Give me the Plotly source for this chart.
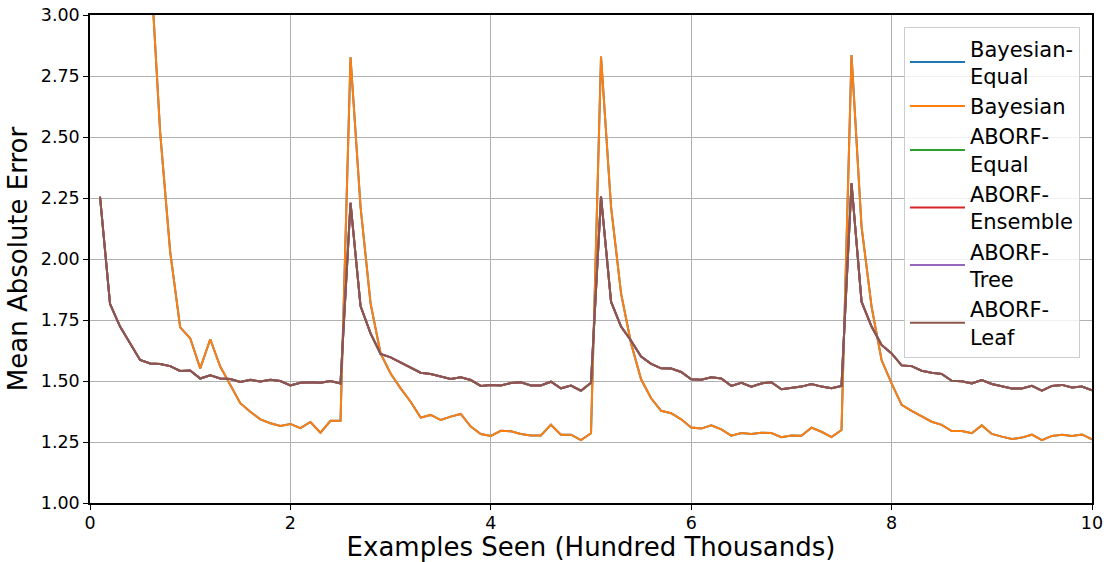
import plotly.graph_objects as go

x_values = [round(0.1 * i, 1) for i in range(1, 101)]

bayesian = [
    5.50, 4.80, 4.30, 3.90, 3.55, 3.24, 2.52, 2.03, 1.72, 1.675,
    1.552, 1.671, 1.559, 1.484, 1.409, 1.374, 1.343, 1.327, 1.316, 1.324,
    1.307, 1.332, 1.288, 1.337, 1.337, 2.827, 2.214, 1.818, 1.613, 1.531,
    1.470, 1.415, 1.350, 1.361, 1.340, 1.354, 1.365, 1.313, 1.283, 1.275,
    1.296, 1.294, 1.283, 1.277, 1.277, 1.321, 1.280, 1.280, 1.258, 1.286,
    2.830, 2.214, 1.859, 1.654, 1.507, 1.429, 1.378, 1.368, 1.343, 1.309,
    1.305, 1.318, 1.302, 1.276, 1.287, 1.283, 1.288, 1.287, 1.270, 1.277,
    1.276, 1.309, 1.292, 1.270, 1.299, 2.836, 2.133, 1.805, 1.586, 1.490,
    1.402, 1.378, 1.354, 1.333, 1.320, 1.295, 1.295, 1.286, 1.318, 1.283,
    1.272, 1.262, 1.268, 1.280, 1.258, 1.275, 1.280, 1.275, 1.281, 1.261,
]
bayesian_equal = list(bayesian)

aborf_leaf = [
    2.255, 1.816, 1.723, 1.654, 1.586, 1.572, 1.570, 1.561, 1.541, 1.543,
    1.510, 1.523, 1.510, 1.508, 1.496, 1.505, 1.498, 1.505, 1.500, 1.482,
    1.493, 1.495, 1.493, 1.500, 1.490, 2.230, 1.807, 1.695, 1.611, 1.597,
    1.575, 1.553, 1.534, 1.529, 1.520, 1.508, 1.515, 1.504, 1.480, 1.484,
    1.482, 1.492, 1.495, 1.482, 1.482, 1.497, 1.470, 1.481, 1.460, 1.493,
    2.256, 1.825, 1.723, 1.665, 1.600, 1.570, 1.552, 1.551, 1.537, 1.507,
    1.505, 1.515, 1.510, 1.480, 1.493, 1.477, 1.490, 1.495, 1.466, 1.473,
    1.477, 1.488, 1.477, 1.470, 1.480, 2.310, 1.825, 1.723, 1.648, 1.613,
    1.564, 1.561, 1.542, 1.534, 1.529, 1.501, 1.499, 1.490, 1.504, 1.488,
    1.477, 1.469, 1.469, 1.480, 1.460, 1.480, 1.484, 1.473, 1.477, 1.462,
]
aborf_equal = list(aborf_leaf)
aborf_ensemble = list(aborf_leaf)
aborf_tree = list(aborf_leaf)

series = [
    ("Bayesian-<br>Equal", bayesian_equal, "#1f77b4"),
    ("Bayesian", bayesian, "#ff7f0e"),
    ("ABORF-<br>Equal", aborf_equal, "#2ca02c"),
    ("ABORF-<br>Ensemble", aborf_ensemble, "#d62728"),
    ("ABORF-<br>Tree", aborf_tree, "#9467bd"),
    ("ABORF-<br>Leaf", aborf_leaf, "#8c564b"),
]

x_ticks = [0, 2, 4, 6, 8, 10]
y_ticks = [1.00, 1.25, 1.50, 1.75, 2.00, 2.25, 2.50, 2.75, 3.00]

fig = go.Figure()
for name, vals, color in series:
    fig.add_trace(go.Scatter(x=x_values, y=vals, mode="lines", name=name,
                             line=dict(color=color, width=2)))

font_family = "DejaVu Sans"
fig.update_layout(
    width=1108, height=562,
    margin=dict(l=90, r=16, t=15, b=59),
    paper_bgcolor="white", plot_bgcolor="white",
    font=dict(family=font_family, color="black", size=17.5),
    showlegend=True,
    legend=dict(
        x=0.988, y=0.975, xanchor="right", yanchor="top",
        bgcolor="rgba(255,255,255,0.8)", bordercolor="#cccccc", borderwidth=1,
        font=dict(size=21, family=font_family),
        tracegroupgap=0, itemwidth=55,
    ),
    xaxis=dict(
        range=[0, 10], tickvals=x_ticks, ticktext=[str(t) for t in x_ticks],
        showgrid=True, gridcolor="#b0b0b0", gridwidth=1,
        showline=True, linecolor="black", linewidth=1.5, mirror=True,
        ticks="outside", ticklen=5, tickcolor="black",
        ticklabelstandoff=-2,
        zeroline=False, automargin=False,
        title=dict(text="Examples Seen (Hundred Thousands)", font=dict(size=26), standoff=7),
    ),
    yaxis=dict(
        range=[1.0, 3.0], tickvals=y_ticks, ticktext=[f"{t:.2f}" for t in y_ticks],
        showgrid=True, gridcolor="#b0b0b0", gridwidth=1,
        showline=True, linecolor="black", linewidth=1.5, mirror=True,
        ticks="outside", ticklen=5, tickcolor="black",
        zeroline=False, automargin=False,
        title=dict(text="Mean Absolute Error", font=dict(size=26), standoff=6),
    ),
)

fig.write_html("out.html")
